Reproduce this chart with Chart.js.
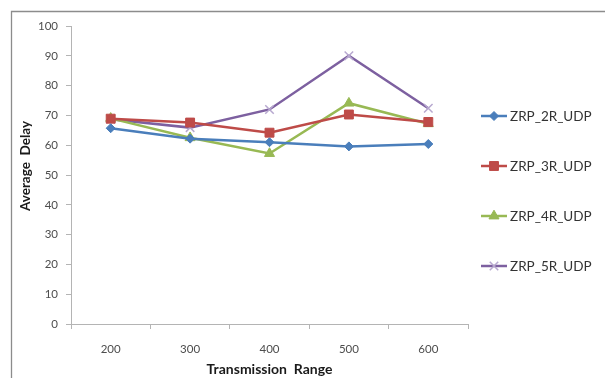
<!DOCTYPE html>
<html>
<head>
<meta charset="utf-8">
<script src="https://cdn.jsdelivr.net/npm/chart.js@4.4.1/dist/chart.umd.min.js"></script>
<style>
  html, body { margin: 0; padding: 0; background: #fff; }
  canvas { display: block; }
</style>
</head>
<body>
<canvas id="myChart" width="605" height="378"></canvas>
<script>
// transmission ranges on the x axis
const ranges = ['200', '300', '400', '500', '600'];
// average delay per series
const zrp2R = [65.7, 62.2, 61.0, 59.6, 60.4];
const zrp3R = [68.9, 67.6, 64.2, 70.3, 67.8];
const zrp4R = [69.0, 62.5, 57.2, 74.1, 67.2];
const zrp5R = [68.7, 65.9, 72.0, 90.0, 72.4];
const seriesNames = ['ZRP_2R_UDP', 'ZRP_3R_UDP', 'ZRP_4R_UDP', 'ZRP_5R_UDP'];
const yTitle = 'Average  Delay';

const fontFamily = 'Lato, "Open Sans", sans-serif';
const axisColor = '#b4b4b4';
const textColor = '#4d4d4d';

// grey frame around the picture (top and left edges are visible)
const framePlugin = {
    id: 'frame',
    beforeDraw(chart) {
        const c = chart.ctx;
        c.save();
        c.fillStyle = '#fff';
        c.fillRect(0, 0, chart.width, chart.height);
        c.strokeStyle = '#8c8c8c';
        c.lineWidth = 1.3;
        c.beginPath();
        c.moveTo(11.5, chart.height);
        c.lineTo(11.5, 11.5);
        c.lineTo(chart.width, 11.5);
        c.stroke();
        c.restore();
    },
    afterDraw(chart) {
        // y title sits a bit above the middle of the plot, like Excel puts it
        const c = chart.ctx;
        const area = chart.chartArea;
        c.save();
        c.translate(26, (area.top + area.bottom) / 2 - 9);
        c.rotate(-Math.PI / 2);
        c.fillStyle = '#1a1a1a';
        c.font = 'bold 13.5px ' + fontFamily;
        c.textAlign = 'center';
        c.textBaseline = 'middle';
        c.fillText(yTitle, 0, 0);
        c.restore();
    }
};

// Excel-like legend: short line with the marker on it, items spread out
const sideLegend = {
    id: 'sideLegend',
    afterDraw(chart) {
        const c = chart.ctx;
        const x0 = chart.chartArea.right + 13;
        c.save();
        chart.data.datasets.forEach((ds, i) => {
            const y = 116 + i * 50;
            c.strokeStyle = ds.borderColor;
            c.lineWidth = ds.borderWidth;
            c.beginPath();
            c.moveTo(x0, y);
            c.lineTo(x0 + 26, y);
            c.stroke();
            c.fillStyle = ds.pointBackgroundColor;
            c.strokeStyle = ds.pointBorderColor;
            c.lineWidth = ds.pointBorderWidth;
            Chart.helpers.drawPoint(c, {
                pointStyle: ds.pointStyle,
                radius: ds.pointRadius,
                rotation: 0,
                borderWidth: ds.pointBorderWidth
            }, x0 + 13, y);
            c.fillStyle = '#333';
            c.font = '13.5px ' + fontFamily;
            c.textBaseline = 'middle';
            c.textAlign = 'left';
            c.fillText(ds.label, x0 + 29, y + 1);
        });
        c.restore();
    }
};

const ctx = document.getElementById('myChart').getContext('2d');
const myChart = new Chart(ctx, {
    type: 'line',
    data: {
        labels: ranges,
        datasets: [{
            label: seriesNames[0],
            data: zrp2R,
            borderColor: '#4a7ebb',
            borderWidth: 2.5,
            pointStyle: 'rectRot',
            pointRadius: 4.5,
            pointBackgroundColor: '#4a7ebb',
            pointBorderColor: '#4a7ebb',
            pointBorderWidth: 1
        }, {
            label: seriesNames[1],
            data: zrp3R,
            borderColor: '#be4b48',
            borderWidth: 2.5,
            pointStyle: 'rect',
            pointRadius: 6.3,
            pointBackgroundColor: '#be4b48',
            pointBorderColor: '#be4b48',
            pointBorderWidth: 1
        }, {
            label: seriesNames[2],
            data: zrp4R,
            borderColor: '#98b954',
            borderWidth: 2.5,
            pointStyle: 'triangle',
            pointRadius: 5.8,
            pointBackgroundColor: '#98b954',
            pointBorderColor: '#98b954',
            pointBorderWidth: 1
        }, {
            label: seriesNames[3],
            data: zrp5R,
            borderColor: '#7d60a0',
            borderWidth: 2.5,
            pointStyle: 'crossRot',
            pointRadius: 6,
            pointBackgroundColor: '#b7a8cf',
            pointBorderColor: '#b7a8cf',
            pointBorderWidth: 1.5
        }]
    },
    options: {
        responsive: false,
        animation: false,
        devicePixelRatio: 1,
        layout: { padding: { left: 12, top: 26, right: 137, bottom: 0 } },
        plugins: {
            legend: { display: false },
            tooltip: { enabled: false }
        },
        scales: {
            x: {
                offset: true,
                grid: { drawOnChartArea: false, drawTicks: true, tickLength: 5, color: axisColor, offset: true },
                border: { color: axisColor, width: 1 },
                ticks: { color: textColor, font: { family: fontFamily, size: 11.5 }, padding: 13 },
                title: {
                    display: true,
                    text: 'Transmission  Range',
                    color: '#1a1a1a',
                    font: { family: fontFamily, size: 14, weight: 'bold' },
                    padding: { top: 4, bottom: 0 }
                },
                afterFit(scale) { scale.height = 54; }
            },
            y: {
                min: 0,
                max: 100,
                ticks: { stepSize: 10, color: textColor, font: { family: fontFamily, size: 11.5 }, padding: 8 },
                grid: { drawOnChartArea: false, drawTicks: true, tickLength: 5, color: axisColor },
                border: { color: axisColor, width: 1 },
                title: { display: false, text: yTitle },
                afterFit(scale) { scale.width = 59; }
            }
        }
    },
    plugins: [framePlugin, sideLegend]
});
</script>
</body>
</html>
